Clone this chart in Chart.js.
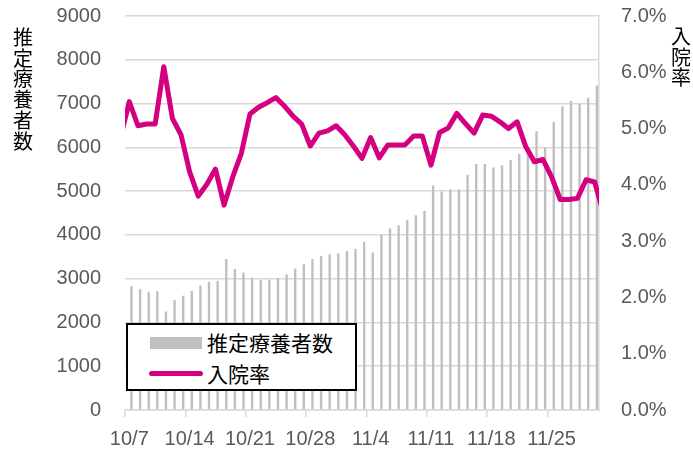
<!DOCTYPE html>
<html>
<head>
<meta charset="utf-8">
<script src="https://cdn.jsdelivr.net/npm/chart.js@4"></script>
<style>
    html, body { margin: 0; padding: 0; background: #fff; }
    #wrap { position: relative; width: 693px; height: 449px; }
    .vtitle {
        position: absolute;
        font-family: "Noto Sans CJK JP", sans-serif;
        color: #000;
        text-align: center;
    }
    #legend {
        position: absolute;
        left: 126px; top: 323px;
        width: 227px; height: 64px;
        border: 2px solid #000;
        background: #fff;
        font-family: "Noto Sans CJK JP", sans-serif;
        font-size: 21px;
        color: #000;
    }
    .item { position: absolute; left: 0; height: 26px; line-height: 26px; }
    .item span { position: absolute; left: 79px; white-space: nowrap; }
</style>
</head>
<body>
<div id="wrap">
    <canvas id="mainChart" width="693" height="449"></canvas>
    <div class="vtitle" style="left:12px; top:27px; width:22px; font-size:20px; line-height:20.7px;">推<br>定<br>療<br>養<br>者<br>数</div>
    <div class="vtitle" style="left:670px; top:26px; width:22px; font-size:20px; line-height:20.5px;">入<br>院<br>率</div>
    <div id="legend">
        <div class="item" style="top:4px;">
            <div style="position:absolute; left:22px; top:8px; width:52px; height:12px; background:#BFBFBF;"></div>
            <span>推定療養者数</span>
        </div>
        <div class="item" style="top:35px;">
            <div style="position:absolute; left:21px; top:11px; width:54px; height:5px; border-radius:3px; background:#D5007F;"></div>
            <span>入院率</span>
        </div>
    </div>
</div>
<script>
// 日付 10/7 ～ 11/30
const dateLabels = [
    '10/7', '10/8', '10/9', '10/10', '10/11', '10/12', '10/13', '10/14', '10/15',
    '10/16', '10/17', '10/18', '10/19', '10/20', '10/21', '10/22', '10/23', '10/24', '10/25',
    '10/26', '10/27', '10/28', '10/29', '10/30', '10/31', '11/1', '11/2', '11/3', '11/4',
    '11/5', '11/6', '11/7', '11/8', '11/9', '11/10', '11/11', '11/12', '11/13', '11/14',
    '11/15', '11/16', '11/17', '11/18', '11/19', '11/20', '11/21', '11/22', '11/23', '11/24',
    '11/25', '11/26', '11/27', '11/28', '11/29', '11/30'
];

// 推定療養者数
const patientCounts = [
    2830, 2760, 2700, 2710, 2250, 2510, 2610, 2720, 2840, 2930,
    2950, 3450, 3220, 3140, 3020, 2970, 2980, 3010, 3100, 3230,
    3330, 3450, 3520, 3560, 3580, 3630, 3680, 3840, 3600, 4000,
    4150, 4220, 4340, 4450, 4550, 5130, 4990, 5040, 5040, 5370,
    5620, 5620, 5540, 5590, 5710, 5850, 6000, 6370, 5990, 6580,
    6940, 7060, 7000, 7130, 7410
];

// 入院率（%）: 先頭は 10/6、末尾は 12/1（表示範囲外、線の端だけ）
const admissionRates = [
    4.85,
    5.48, 5.05, 5.08, 5.08, 6.10, 5.18, 4.89, 4.23, 3.80, 4.01,
    4.28, 3.64, 4.14, 4.56, 5.26, 5.38, 5.46, 5.55, 5.40, 5.22,
    5.08, 4.69, 4.92, 4.96, 5.05, 4.89, 4.69, 4.47, 4.84, 4.48,
    4.71, 4.71, 4.71, 4.87, 4.87, 4.35, 4.93, 5.01, 5.27, 5.09,
    4.92, 5.24, 5.22, 5.12, 5.00, 5.12, 4.68, 4.41, 4.45, 4.14,
    3.74, 3.74, 3.76, 4.09, 4.05,
    3.50
];

const GRID_COLOR = '#D9D9D9';
const TICK_COLOR = '#595959';
const TICK_FONT = { family: 'Liberation Sans', size: 20 };

// 線は日付の位置（10/7 = 0）に合わせる
const ratePoints = admissionRates.map((v, i) => ({ x: i - 1, y: v }));

const ctx = document.getElementById('mainChart').getContext('2d');

new Chart(ctx, {
    type: 'bar',
    data: {
        labels: dateLabels,
        datasets: [
            {
                type: 'line',
                label: '入院率',
                data: ratePoints,
                xAxisID: 'xLine',
                yAxisID: 'yRate',
                borderColor: '#D5007F',
                borderWidth: 5,
                borderJoinStyle: 'round',
                borderCapStyle: 'round',
                pointRadius: 0,
                tension: 0,
                order: 0
            },
            {
                label: '推定療養者数',
                data: patientCounts,
                xAxisID: 'x',
                yAxisID: 'yCount',
                backgroundColor: '#BFBFBF',
                barPercentage: 0.55,
                categoryPercentage: 1.0,
                order: 1
            }
        ]
    },
    options: {
        responsive: false,
        animation: false,
        layout: { padding: { top: 16, left: 0, right: 0, bottom: 0 } },
        plugins: {
            legend: { display: false },
            tooltip: { enabled: false }
        },
        scales: {
            x: {
                offset: true,
                grid: {
                    offset: true,
                    drawOnChartArea: false,
                    tickLength: 7,
                    lineWidth: 1.5,
                    color: (c) => (c.index % 7 === 0 ? GRID_COLOR : 'rgba(0,0,0,0)')
                },
                border: { display: true, color: GRID_COLOR, width: 1.5 },
                ticks: {
                    autoSkip: false,
                    maxRotation: 0,
                    padding: 10,
                    color: TICK_COLOR,
                    font: TICK_FONT,
                    callback: function(value, index) {
                        return index % 7 === 0 ? dateLabels[value] : '';
                    }
                },
                afterFit: (scale) => {
                    scale.height = 39;
                    scale.paddingLeft = 0;
                    scale.paddingRight = 0;
                }
            },
            xLine: {
                type: 'linear',
                display: false,
                offset: false,
                bounds: 'data',
                min: -0.5,
                max: dateLabels.length - 0.5
            },
            yCount: {
                position: 'left',
                min: 0,
                max: 9000,
                ticks: {
                    stepSize: 1000,
                    padding: 24,
                    color: TICK_COLOR,
                    font: TICK_FONT,
                    callback: (value) => String(value)
                },
                grid: { color: GRID_COLOR, lineWidth: 1.5, drawTicks: false },
                border: { display: false },
                afterFit: (scale) => {
                    scale.width = 125;
                    scale.paddingTop = 0;
                    scale.paddingBottom = 0;
                }
            },
            yRate: {
                position: 'right',
                min: 0,
                max: 7,
                ticks: {
                    stepSize: 1,
                    padding: 22,
                    color: TICK_COLOR,
                    font: TICK_FONT,
                    callback: (value) => value.toFixed(1) + '%'
                },
                grid: { drawOnChartArea: false, drawTicks: false },
                border: { display: true, color: GRID_COLOR, width: 1.5 },
                afterFit: (scale) => {
                    scale.width = 94;
                    scale.paddingTop = 0;
                    scale.paddingBottom = 0;
                }
            }
        }
    }
});
</script>
</body>
</html>
